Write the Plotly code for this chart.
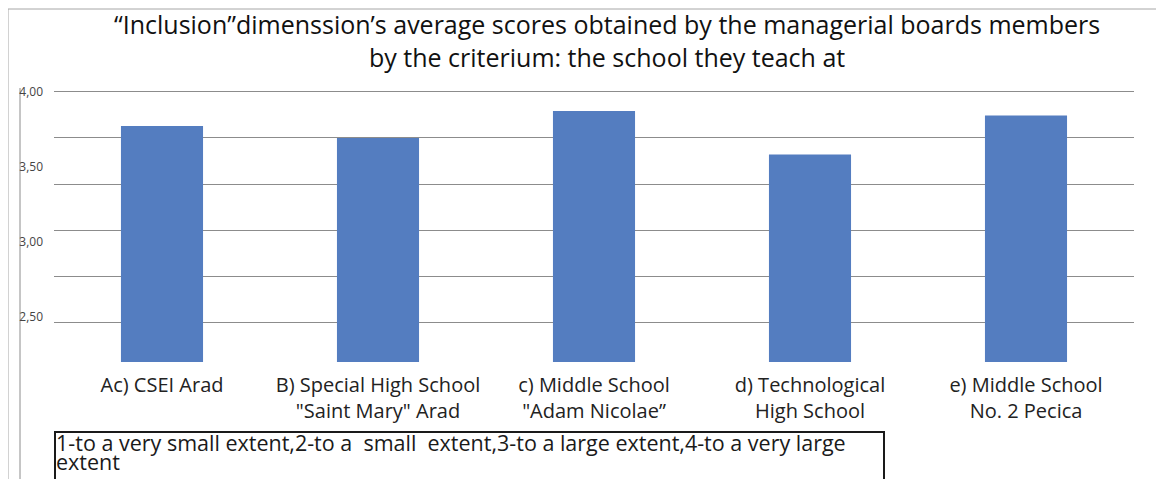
import plotly.graph_objects as go

# ---- data ----
categories = ["a", "b", "c", "d", "e"]
tick_labels = [
    "Ac) CSEI Arad",
    "B) Special High School<br>\"Saint Mary\" Arad",
    "c) Middle School<br>\"Adam Nicolae”",
    "d) Technological<br>High School",
    "e) Middle School<br>No. 2 Pecica",
]
scores = [3.77, 3.69, 3.87, 3.58, 3.84]
y_tick_values = [2.5, 3.0, 3.5, 4.0]
y_tick_labels = ["2,50", "3,00", "3,50", "4,00"]

title_text = ("“Inclusion”dimenssion’s average scores obtained by the managerial boards members"
              "<br>by the criterium: the school they teach at")
note_lines = [
    "1-to a very small extent,2-to a\u00a0\u00a0small\u00a0\u00a0extent,3-to a large extent,4-to a very large",
    "extent",
]

# ---- layout geometry (pixels; reference coordinates, page has an 8px body margin) ----
W, H = 1164, 479
OFF = 8
L, R, T, B = 46, 38, 82, 125
PW = W - L - R
PH = H - T - B


def px(xr):
    return (xr - OFF - L) / PW


def py(yr):
    return (H - B - (yr - OFF)) / PH


FONT = "'Open Sans', Lato, sans-serif"
BAR = "#547DC0"

fig = go.Figure()
fig.add_trace(go.Bar(
    x=categories, y=scores, marker=dict(color=BAR, line=dict(width=0)),
    hoverinfo="x+y",
))

fig.update_layout(
    width=W, height=H,
    margin=dict(l=L, r=R, t=T, b=B, pad=0, autoexpand=False),
    paper_bgcolor="white", plot_bgcolor="white",
    showlegend=False,
    bargap=0.62,
    font=dict(family=FONT, color="#222222"),
    xaxis=dict(
        type="category", tickvals=categories, ticktext=tick_labels,
        showgrid=False, showline=False, zeroline=False, ticks="",
        tickangle=0, automargin=False,
        tickfont=dict(family=FONT, size=20, color="#222222"),
        ticklabelstandoff=9,
    ),
    yaxis=dict(
        range=[2.2, 4.01], tickvals=y_tick_values, ticktext=y_tick_labels,
        showgrid=False, zeroline=False, showline=False, ticks="",
        automargin=False,
        tickfont=dict(family=FONT, size=12, color="#444444"),
        ticklabelstandoff=10,
        minor=dict(tick0=4.0, dtick=0.308, showgrid=True,
                   gridcolor="#8c8c8c", gridwidth=1, ticks=""),
    ),
)

# title
fig.add_annotation(text=title_text, xref="paper", yref="paper",
                   x=px(607), y=py(41), xanchor="center", yanchor="middle",
                   showarrow=False, borderpad=0,
                   font=dict(family=FONT, size=25, color="#111111"))

# outer frame and vertical axis line (decoration)
fig.add_shape(type="rect", xref="paper", yref="paper",
              x0=px(8), x1=px(1160), y0=py(H + 30), y1=py(9),
              line=dict(color="#a6a6a6", width=1), fillcolor="rgba(0,0,0,0)",
              layer="below")
fig.add_shape(type="line", xref="paper", yref="paper",
              x0=px(20), x1=px(20), y0=py(88), y1=py(H + 30),
              line=dict(color="#8c8c8c", width=1), layer="below")

# note box (two tightly spaced lines, as in the reference)
fig.add_shape(type="rect", xref="paper", yref="paper",
              x0=px(55), x1=px(884), y0=py(H + 30), y1=py(432),
              line=dict(color="#1a1a1a", width=2), fillcolor="white",
              layer="above")
for line, yc in zip(note_lines, [442, 461]):
    fig.add_annotation(text=line, xref="paper", yref="paper",
                       x=px(55), y=py(yc), xanchor="left", yanchor="middle",
                       align="left", showarrow=False, borderpad=0,
                       font=dict(family=FONT, size=21.5, color="#1a1a1a"))

fig.write_html("out.html")
